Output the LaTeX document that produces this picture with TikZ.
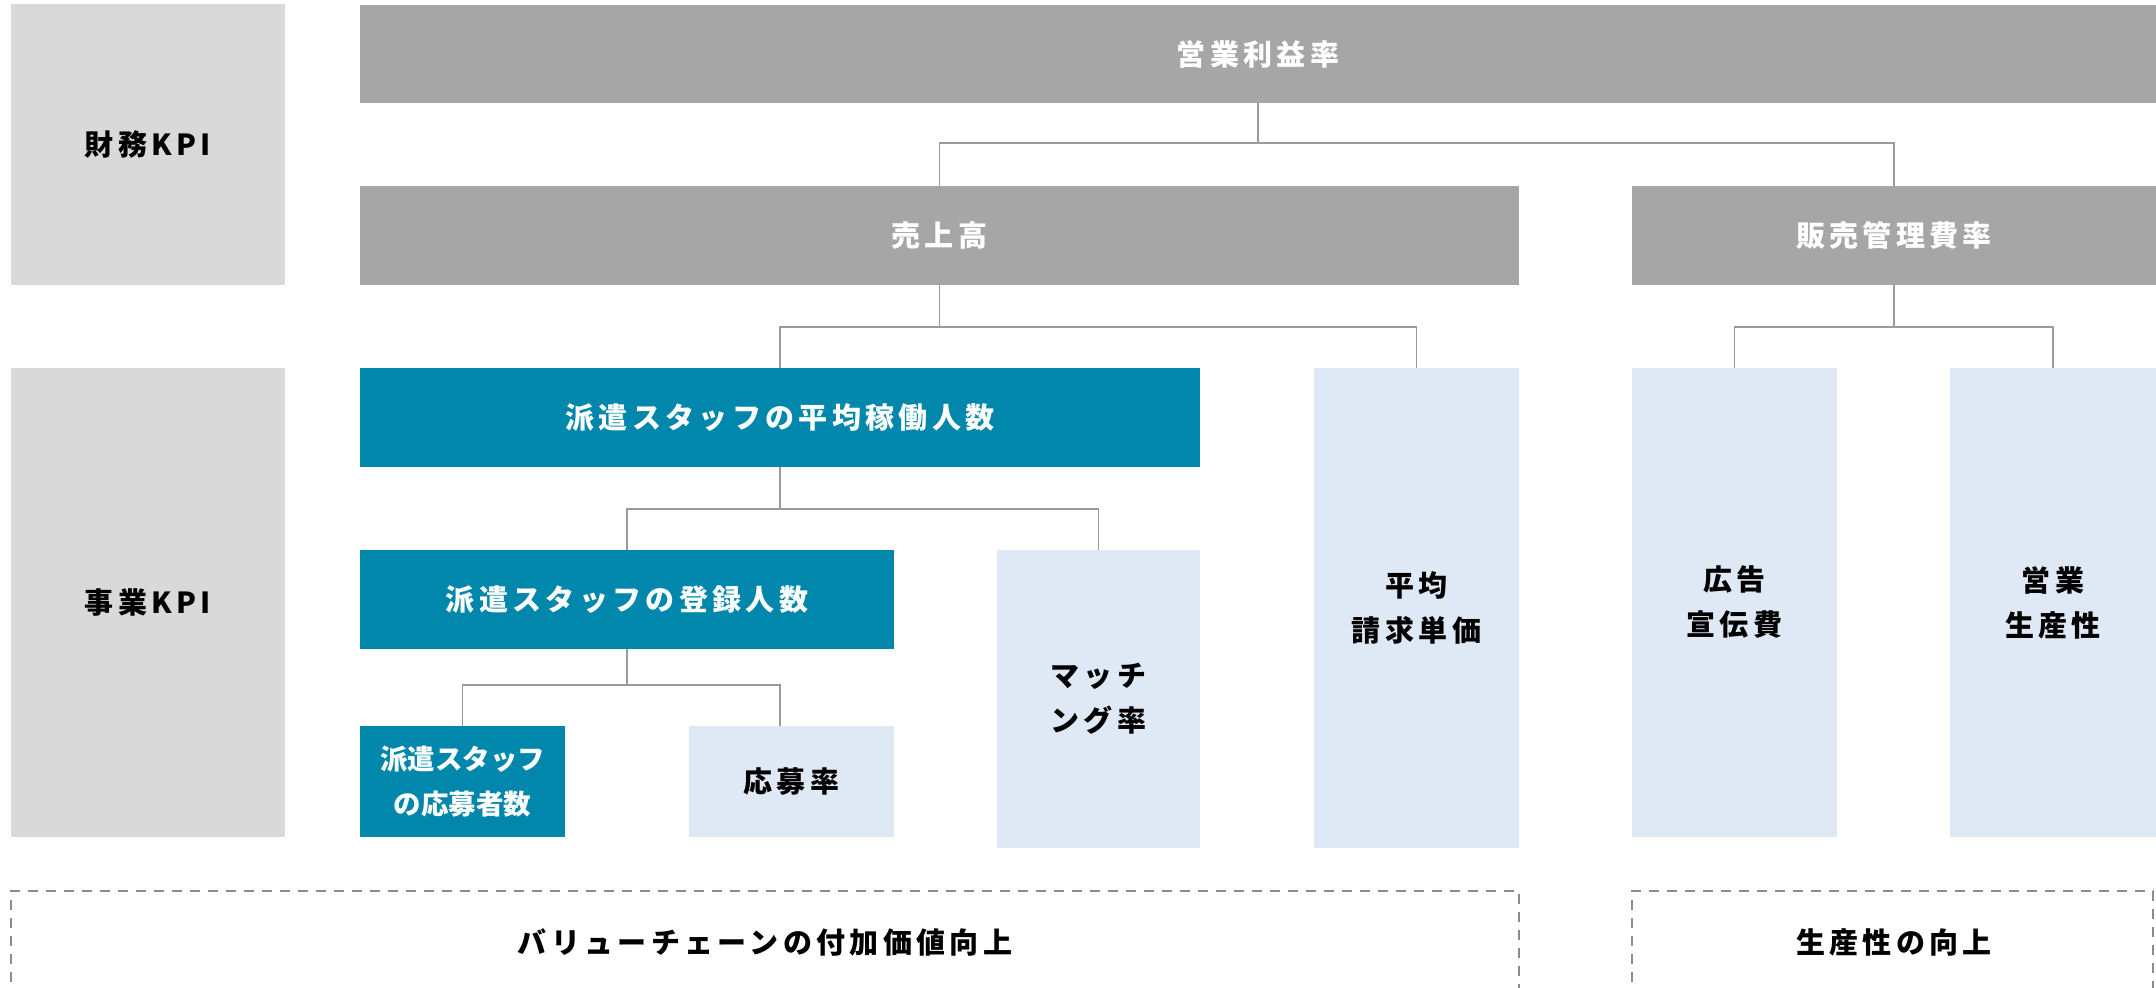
\documentclass[tikz,border=0pt]{standalone}
\usepackage{fontspec}
\newfontfamily\jp[LetterSpace=15]{Noto Sans CJK JP}
\newfontfamily\jpn{Noto Sans CJK JP}
\usetikzlibrary{calc}
\definecolor{dgray}{HTML}{A6A6A6}
\definecolor{lgray}{HTML}{D9D9D9}
\definecolor{teal2}{HTML}{0087AB}
\definecolor{lblue}{HTML}{DEE9F5}
\definecolor{lncol}{HTML}{9A9A9A}
\definecolor{dshcol}{HTML}{8C8C8C}
\tikzset{
  kb/.style={inner sep=0pt, outer sep=0pt, align=center, font=\jp\bfseries\fontsize{14.5pt}{22.5pt}\selectfont},
  side/.style={kb, fill=lgray, text=black},
  fin/.style={kb, fill=dgray, text=white},
  biz/.style={kb, fill=teal2, text=white},
  sub/.style={kb, fill=lblue, text=black},
  conn/.style={draw=lncol, line width=0.8pt},
  dbox/.style={draw=dshcol, line width=1.1pt, dash pattern=on 5pt off 4pt},
  lbl/.style={font=\jp\bfseries\fontsize{14.5pt}{22.5pt}\selectfont, text=black, inner sep=0pt}
}
\newcommand\kbox[7]{%
  \pgfmathsetmacro\bw{(#5-#3)*0.5}\pgfmathsetmacro\bh{(#6-#4)*0.5}%
  \node[#1, minimum width=\bw pt, minimum height=\bh pt] (#2) at ({(#3+#5)/2},{(#4+#6)/2}) {#7};}
\begin{document}
\begin{tikzpicture}[x=0.5pt,y=-0.5pt]
\clip (0,0) rectangle (2156,987);
\fill[white] (0,0) rectangle (2156,987);
% side labels
\kbox{side}{zaimu}{11}{4}{285}{285}{財務KPI}
\kbox{side}{jigyo}{11}{368}{285}{837}{事業KPI}
% financial KPI
\kbox{fin}{eigyo}{360}{5}{2156}{103}{営業利益率}
\kbox{fin}{uriage}{360}{186}{1519}{285}{売上高}
\kbox{fin}{hanbai}{1632}{186}{2156}{285}{販売管理費率}
% business KPI
\kbox{biz}{kado}{360}{368}{1200}{467}{派遣スタッフの平均稼働人数}
\kbox{sub}{seikyu}{1314}{368}{1519}{848}{平均\\請求単価}
\kbox{sub}{kokoku}{1632}{368}{1837}{837}{広告\\宣伝費}
\kbox{sub}{seisan}{1950}{368}{2156}{837}{営業\\生産性}
\kbox{biz}{toroku}{360}{550}{894}{649}{派遣スタッフの登録人数}
\kbox{sub}{matching}{997}{550}{1200}{848}{マッチ\\ング率}
\kbox{biz, font=\jpn\bfseries\fontsize{13.75pt}{22.5pt}\selectfont}{obosha}{360}{726}{565}{837}{派遣スタッフ\\の応募者数}
\kbox{sub}{obo}{689}{726}{894}{837}{応募率}
% connectors
\coordinate (j1) at ($(eigyo.south)+(0,40)$);
\draw[conn] (eigyo.south) -- (j1) -| (uriage.north);
\draw[conn] (j1) -| (hanbai.north);
\coordinate (j2) at ($(uriage.south)+(0,42)$);
\draw[conn] (uriage.south) -- (j2) -| (kado.north);
\draw[conn] (j2) -| (seikyu.north);
\coordinate (j3) at ($(hanbai.south)+(0,42)$);
\draw[conn] (hanbai.south) -- (j3) -| (kokoku.north);
\draw[conn] (j3) -| (seisan.north);
\coordinate (j4) at ($(kado.south)+(0,42)$);
\draw[conn] (kado.south) -- (j4) -| (toroku.north);
\draw[conn] (j4) -| (matching.north);
\coordinate (j5) at ($(toroku.south)+(0,36)$);
\draw[conn] (toroku.south) -- (j5) -| (obosha.north);
\draw[conn] (j5) -| (kado.south |- obo.north);
% dashed groups
\draw[dbox] (11,1000) -- (11,891) -- (1519,891) -- (1519,1000);
\draw[dbox] (1632,1000) -- (1632,891) -- (2153,891) -- (2153,1000);
\node[lbl] (vc) at (765,942) {バリューチェーンの付加価値向上};
\node[lbl] (ps) at (1894,942) {生産性の向上};
\end{tikzpicture}
\end{document}
